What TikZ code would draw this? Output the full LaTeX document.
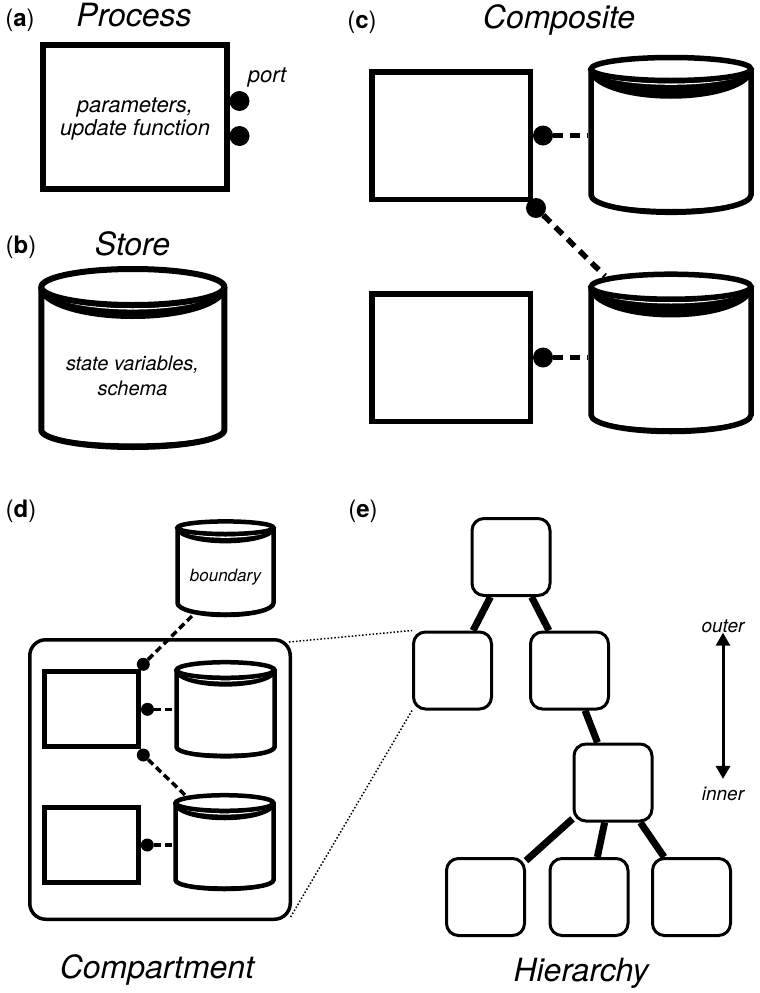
\documentclass[tikz,border=0pt]{standalone}
\usepackage{fontspec}
\setmainfont{TeX Gyre Heros}
\usetikzlibrary{arrows.meta}

% store: name, cx, cy (top), rx, ry, ry band, y sides end, ry bottom, line width
\newcommand{\storecyl}[9]{%
  \draw[line width=#9pt, fill=white] ({#2-#4},{#3}) -- ({#2-#4},{#7})
    arc[start angle=180, end angle=360, x radius=#4pt, y radius=#8pt] -- ({#2+#4},{#3});
  \fill ({#2-#4},{#7}) arc[start angle=180, end angle=360, x radius=#4pt, y radius=#8pt]
    arc[start angle=0, end angle=-180, x radius=#4pt, y radius={(#8-0.6*#9)*1pt}] -- cycle;
  \fill ({#2-#4},{#3}) arc[start angle=180, end angle=360, x radius=#4pt, y radius=#6pt]
    arc[start angle=0, end angle=-180, x radius=#4pt, y radius=#5pt] -- cycle;
  \draw[line width=#9pt] ({#2-#4},{#3}) arc[start angle=180, end angle=360, x radius=#4pt, y radius=#6pt];
  \draw[white, line width=1.3pt] ({#2-#4+#9/2},{#3})
    arc[start angle=180, end angle=360, x radius={(#4-#9/2)*1pt}, y radius={(#5+#9/2+0.9)*1pt}];
  \draw[line width=#9pt, fill=white] ({#2},{#3}) ellipse[x radius=#4pt, y radius=#5pt];
  \node[inner sep=0pt, outer sep=0pt, minimum width={(2*#4+#9)*1pt},
    minimum height={(#7+#8-#3+#5+#9)*1pt}] (#1) at ({#2},{(#3-#5+#7+#8)/2}) {};
}

\tikzset{
  panel/.style={font=\fontsize{24}{26}\selectfont, anchor=base, inner sep=0pt},
  title/.style={font=\fontsize{32}{34}\selectfont\itshape, anchor=base, inner sep=0pt},
  note/.style={font=\fontsize{22}{23}\selectfont\itshape, align=center, inner sep=0pt},
  procbox/.style={draw, line width=#1, inner sep=0pt},
  port/.style={circle, fill, inner sep=0pt, minimum size=#1},
  link/.style={line width=5.5pt, dash pattern=on 10pt off 7pt},
  sublink/.style={line width=3.5pt, dash pattern=on 7pt off 4pt},
  zoomline/.style={line width=1.5pt, dash pattern=on 1.5pt off 2pt},
  level/.style={draw, line width=3pt, rounded corners=12pt, inner sep=0pt,
    minimum width=78pt, minimum height=77pt},
  tie/.style={line width=7pt},
  updown/.style={line width=3pt, {Triangle[width=14pt,length=13pt]}-{Triangle[width=14pt,length=13pt]}},
}

\begin{document}
\begin{tikzpicture}[x=1pt, y=-1pt]
  \useasboundingbox (0,0) rectangle (760,993);

  % (a) process
  \node[panel] (la) at (20,27) {(\textbf{a})};
  \node[title] (ta) at (134,27) {Process};
  \node[procbox=6pt, minimum width=184pt, minimum height=144pt] (pa) at (135,117) {};
  \node[note] (na) at (135,119) {parameters,\\update function};
  \node[port=20pt] (pa1) at (239.5,101) {};
  \node[port=20pt] (pa2) at (239.5,136) {};
  \node[note] (portlbl) at (267,77) {port};

  % (b) store
  \node[panel] (lb) at (21,253) {(\textbf{b})};
  \node[title] (tb) at (132.5,255) {Store};
  \storecyl{sb}{132.8}{287}{91.5}{18}{29}{430}{17}{6}
  \node[note, font=\fontsize{20}{25}\selectfont\itshape] (nb) at (132.5,376) {state variables,\\schema};

  % (c) composite
  \node[panel] (lc) at (362,28) {(\textbf{c})};
  \node[title] (tc) at (559,28) {Composite};
  \node[procbox=5.5pt, minimum width=158.5pt, minimum height=127.5pt] (pc) at (451,135.5) {};
  \node[procbox=5.5pt, minimum width=158.5pt, minimum height=127.5pt] (qc) at (451,357.5) {};
  \storecyl{sc1}{671}{69}{80}{11.5}{27}{195}{17.3}{5.5}
  \storecyl{sc2}{671}{286.7}{80}{12.5}{28}{415}{16.5}{5.5}
  \node[port=20pt] (pc1) at (543,135.5) {};
  \node[port=20pt] (pc2) at (536,208) {};
  \node[port=20pt] (pc3) at (543,357.5) {};
  \coordinate (rimc) at (605,276);
  \draw[link] (pc1) -- (pc1 -| sc1.west);
  \draw[link] (pc2) -- (rimc);
  \draw[link] (pc3) -- (pc3 -| sc2.west);

  % (d) compartment
  \node[panel] (ld) at (21,517) {(\textbf{d})};
  \node[title] (td) at (157,978) {Compartment};
  \node[draw, line width=3.5pt, rounded corners=16pt, inner sep=0pt,
    minimum width=260.5pt, minimum height=279.5pt] (comp) at (160,779.5) {};
  \storecyl{bnd}{225.5}{527.7}{48}{6.3}{13.4}{603}{12}{4.5}
  \node[note, font=\fontsize{17}{19}\selectfont\itshape] (nbnd) at (225.5,577) {boundary};
  \node[procbox=5pt, minimum width=93.7pt, minimum height=75pt] (pd) at (91.7,709.3) {};
  \node[procbox=5pt, minimum width=93.7pt, minimum height=75pt] (qd) at (91.3,844.7) {};
  \storecyl{sd1}{225.5}{670}{49}{7.8}{14.4}{747}{9.3}{4.5}
  \storecyl{sd2}{224.5}{803}{49}{7.8}{15}{880}{9}{4.5}
  \node[port=13pt] (pd1) at (143.3,664.3) {};
  \node[port=13pt] (pd2) at (147.5,709.3) {};
  \node[port=13pt] (pd3) at (143.3,755) {};
  \node[port=13pt] (pd4) at (147.3,845) {};
  \coordinate (bndfoot) at (192,616);
  \coordinate (rimd) at (185,795);
  \draw[sublink] (pd1) -- (bndfoot);
  \draw[sublink] (pd2) -- (pd2 -| sd1.west);
  \draw[sublink] (pd3) -- (rimd);
  \draw[sublink] (pd4) -- (pd4 -| sd2.west);

  % (e) hierarchy
  \node[panel] (le) at (363,517) {(\textbf{e})};
  \node[title] (te) at (581,981) {Hierarchy};
  \node[level] (h1) at (511,557) {};
  \node[level] (h2) at (452.5,670.5) {};
  \node[level] (h3) at (569.5,670.5) {};
  \node[level] (h4) at (613,782.5) {};
  \node[level] (h5) at (485.5,897) {};
  \node[level] (h6) at (589,897) {};
  \node[level] (h7) at (691.5,897) {};
  \draw[tie] (h1) -- (h2);
  \draw[tie] (h1) -- (h3);
  \draw[tie] (h3) -- (h4);
  \draw[tie] (h4) -- (h5);
  \draw[tie] (h4) -- (h6);
  \draw[tie] (h4) -- (h7);
  \node[note, font=\fontsize{19}{21}\selectfont\itshape] (outer) at (723,626) {outer};
  \node[note, font=\fontsize{19}{21}\selectfont\itshape] (inner) at (723,794) {inner};
  \draw[updown] (outer.south) -- ([yshift=8pt]inner.north);

  \draw[zoomline] ([shift={(-3,4)}]comp.north east) -- (h2.north west);
  \draw[zoomline] (h2.south west) -- ([shift={(-2,-3)}]comp.south east);
\end{tikzpicture}
\end{document}
